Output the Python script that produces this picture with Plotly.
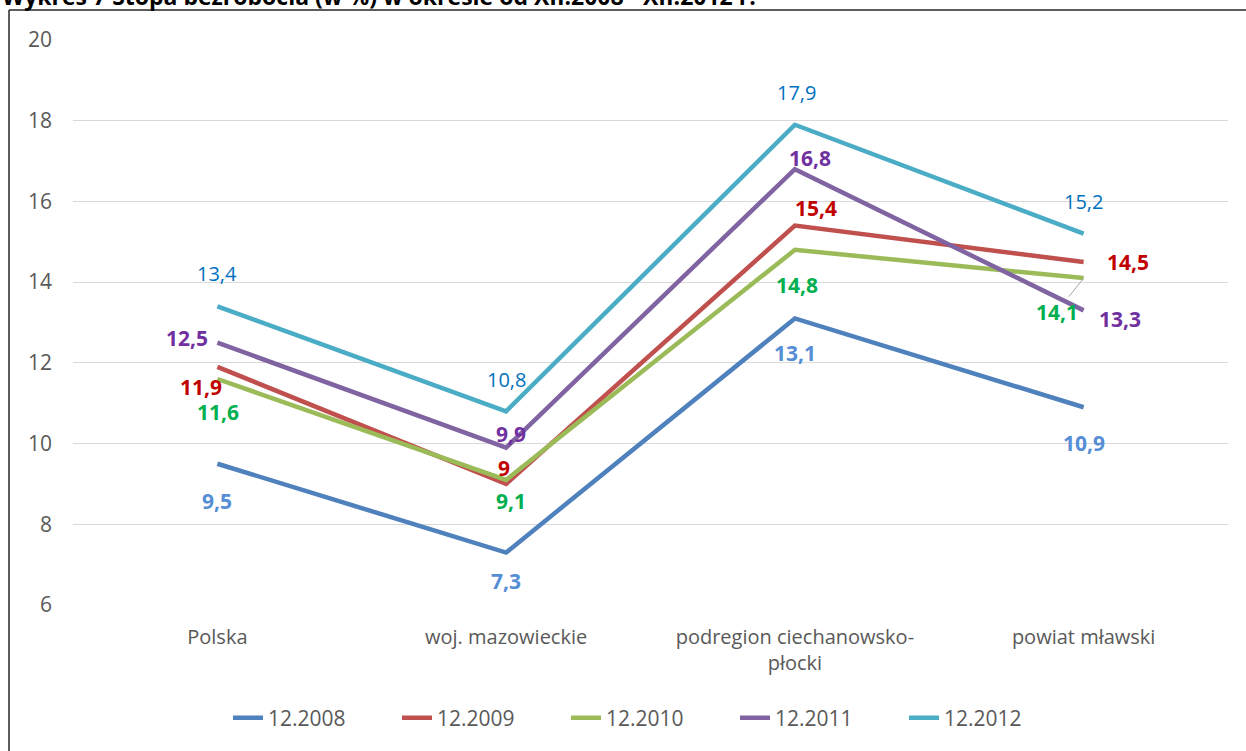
import plotly.graph_objects as go

categories = ["Polska", "woj. mazowieckie", "podregion ciechanowsko-<br>płocki", "powiat mławski"]
series_names = ["12.2008", "12.2009", "12.2010", "12.2011", "12.2012"]
v2008 = [9.5, 7.3, 13.1, 10.9]
v2009 = [11.9, 9.0, 15.4, 14.5]
v2010 = [11.6, 9.1, 14.8, 14.1]
v2011 = [12.5, 9.9, 16.8, 13.3]
v2012 = [13.4, 10.8, 17.9, 15.2]
y_ticks = [6, 8, 10, 12, 14, 16, 18, 20]
title_text = "Wykres 7 Stopa bezrobocia (w %) w okresie od XII.2008 - XII.2012 r."

values = [v2008, v2009, v2010, v2011, v2012]
line_colors = ["#4F81BD", "#C0504D", "#9BBB59", "#8064A2", "#4BACC6"]
label_colors = ["#558ED5", "#C00000", "#00B050", "#7030A0", "#0070C0"]
label_bold = [True, True, True, True, False]
# pixel offsets (dx, dy) of each label from its point; dy positive = up
offsets = [
    [(0, -37), (0, -28), (0, -35), (0, -36)],
    [(-16, -20), (-2, 16), (21, 18), (44, 0)],
    [(1, -33), (5, -21), (2, -35), (0, 0)],
    [(-30, 5), (5, 14), (15, 11), (36, -9)],
    [(0, 33), (0, 32), (2, 32), (0, 32)],
]

FONT = "Open Sans"
fig = go.Figure()
x_idx = list(range(len(categories)))
for name, vals, lc in zip(series_names, values, line_colors):
    fig.add_trace(go.Scatter(x=x_idx, y=vals, mode="lines", name=name,
                             line=dict(color=lc, width=4.5), hoverinfo="skip"))

annotations = []
for s, vals in enumerate(values):
    for i, v in enumerate(vals):
        txt = ("%g" % v).replace(".", ",")
        size = 20
        if label_bold[s]:
            txt = "<b>" + txt + "</b>"
            size = 21
        dx, dy = offsets[s][i]
        if s == 2 and i == 3:
            annotations.append(dict(x=i, y=v, xref="x", yref="y", text=txt,
                                    showarrow=True, arrowhead=0, arrowwidth=1,
                                    arrowcolor="#A6A6A6", ax=-27, ay=34,
                                    font=dict(family=FONT, size=size, color=label_colors[s])))
        else:
            annotations.append(dict(x=i, y=v, xref="x", yref="y", text=txt,
                                    showarrow=False, xshift=dx, yshift=dy,
                                    font=dict(family=FONT, size=size, color=label_colors[s])))

annotations.append(dict(x=-0.063, y=1.078, xref="paper", yref="paper", text="<b>" + title_text + "</b>",
                        showarrow=False, xanchor="left", yanchor="middle",
                        font=dict(family=FONT, size=23, color="#000000")))

fig.update_layout(
    width=1246, height=751,
    margin=dict(l=73, r=18, t=40, b=146),
    paper_bgcolor="white", plot_bgcolor="white",
    font=dict(family=FONT, size=18, color="#595959"),
    showlegend=True,
    legend=dict(orientation="h", x=0.5, xanchor="center", y=-0.2, yanchor="middle",
                font=dict(family=FONT, size=21, color="#595959"),
                entrywidth=124, entrywidthmode="pixels", traceorder="normal"),
    annotations=annotations,
    shapes=[
        dict(type="line", xref="paper", yref="paper", x0=-0.0554, x1=-0.0554, y0=-0.3, y1=1.0531,
             line=dict(color="#262626", width=1.5)),
        dict(type="line", xref="paper", yref="paper", x0=-0.0554, x1=1.1, y0=1.0531, y1=1.0531,
             line=dict(color="#262626", width=1.5)),
    ],
)
fig.update_xaxes(tickmode="array", tickvals=x_idx, ticktext=categories,
                 range=[-0.5, 3.5], showgrid=False, zeroline=False, showline=False,
                 ticks="", ticklabelstandoff=18, tickfont=dict(size=20, color="#595959"))
fig.update_yaxes(range=[6, 20], tickvals=y_ticks, showgrid=True, gridcolor="#D9D9D9",
                 gridwidth=1.3, zeroline=False, showline=False, ticks="",
                 ticklabelstandoff=20, tickfont=dict(size=21, color="#595959"))

fig.write_html("out.html", config={"displayModeBar": False},
               post_script="document.body.style.margin='0px';")
